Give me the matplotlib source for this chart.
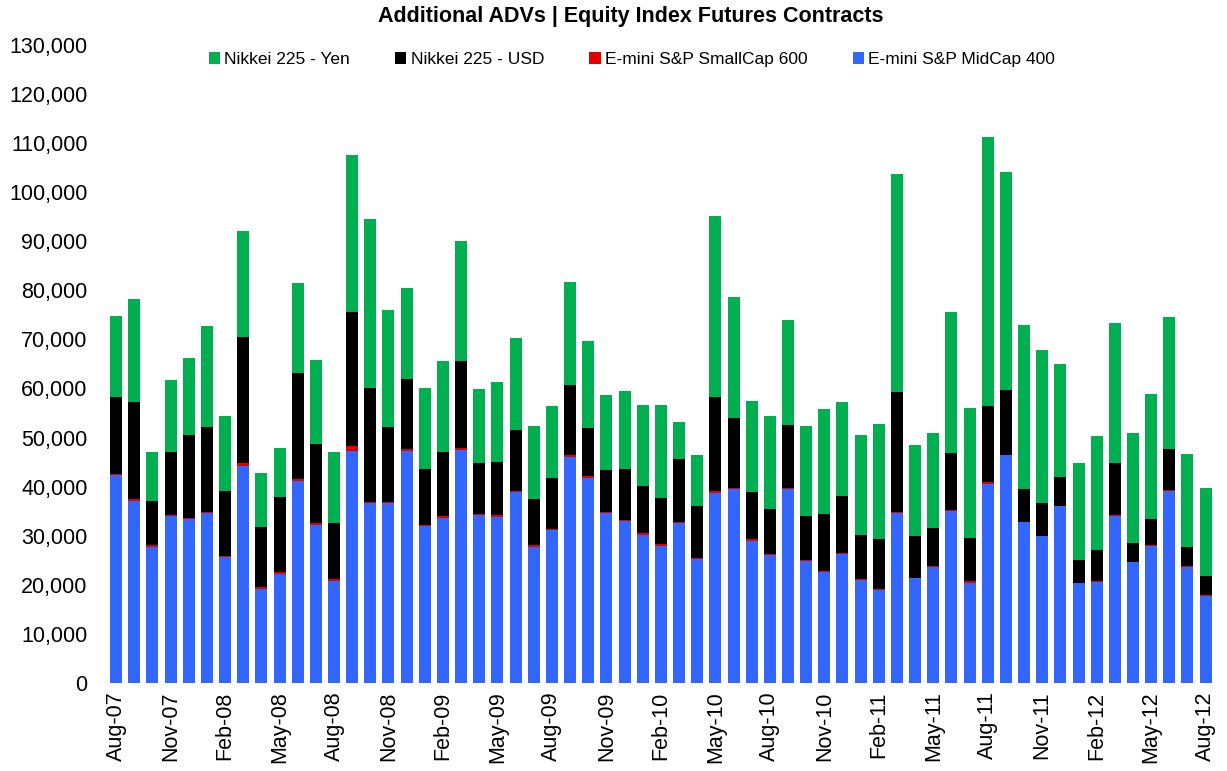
import numpy as np
import matplotlib
matplotlib.use('Agg')
import matplotlib.pyplot as plt
from matplotlib.ticker import FuncFormatter

plt.rcParams['font.family'] = ['Liberation Sans', 'DejaVu Sans']

# monthly, Aug-07 .. Aug-12
months = ['Aug-07', 'Sep-07', 'Oct-07', 'Nov-07', 'Dec-07',
          'Jan-08', 'Feb-08', 'Mar-08', 'Apr-08', 'May-08', 'Jun-08', 'Jul-08', 'Aug-08', 'Sep-08', 'Oct-08', 'Nov-08', 'Dec-08',
          'Jan-09', 'Feb-09', 'Mar-09', 'Apr-09', 'May-09', 'Jun-09', 'Jul-09', 'Aug-09', 'Sep-09', 'Oct-09', 'Nov-09', 'Dec-09',
          'Jan-10', 'Feb-10', 'Mar-10', 'Apr-10', 'May-10', 'Jun-10', 'Jul-10', 'Aug-10', 'Sep-10', 'Oct-10', 'Nov-10', 'Dec-10',
          'Jan-11', 'Feb-11', 'Mar-11', 'Apr-11', 'May-11', 'Jun-11', 'Jul-11', 'Aug-11', 'Sep-11', 'Oct-11', 'Nov-11', 'Dec-11',
          'Jan-12', 'Feb-12', 'Mar-12', 'Apr-12', 'May-12', 'Jun-12', 'Jul-12', 'Aug-12']

midcap400 = [42400, 37150, 27790, 34000, 33500, 34740, 25740, 44240, 19160, 22230, 41100, 32180, 20840, 47320, 36710, 36710,
             47320, 31960, 33640, 47530, 34150, 33790, 38900, 27640, 31080, 46070, 41830, 34660, 33050, 30200, 27940, 32620,
             25230, 38760, 39490, 29030, 26110, 39490, 24860, 22670, 26330, 20990, 19010, 34740, 21350, 23650, 35000, 20460,
             40610, 46400, 32720, 29860, 36030, 20380, 20610, 34070, 24590, 27980, 39180, 23690, 17750]

smallcap600 = [200, 300, 400, 150, 150, 200, 200, 500, 400, 300, 500, 400, 400, 1000, 200, 200,
               300, 200, 300, 300, 300, 400, 300, 400, 300, 300, 300, 150, 150, 400, 300, 150,
               150, 400, 300, 400, 150, 300, 150, 150, 150, 150, 150, 150, 150, 150, 150, 400,
               300, 100, 100, 100, 100, 100, 100, 100, 100, 100, 100, 100, 100]

nikkei_usd = [15760, 19810, 8960, 12950, 16880, 17270, 13180, 25760, 12320, 15280, 21510, 16050, 11450, 27150, 23280, 15230,
              14390, 11500, 13160, 17690, 10450, 10930, 12360, 9400, 10300, 14400, 9790, 8560, 10460, 9480, 9500, 12790,
              10670, 19200, 14180, 9550, 9210, 12790, 8920, 11550, 11690, 8990, 10090, 24490, 8480, 7790, 11650, 8700,
              15420, 13220, 6670, 6670, 5840, 4560, 6370, 10660, 3810, 5240, 8330, 3890, 3960]

nikkei_yen = [16450, 20990, 9950, 14700, 15580, 20410, 15290, 21640, 10970, 10160, 18280, 17190, 14410, 32030, 34220, 23840,
              18510, 16530, 18420, 24430, 14920, 16160, 18720, 14990, 14780, 20920, 17770, 15350, 15870, 16600, 18940, 7530,
              10460, 36860, 24570, 18500, 18940, 21350, 18500, 21500, 19090, 20330, 23480, 44390, 18510, 19410, 28800, 26470,
              54830, 44370, 33390, 31130, 23010, 19710, 23310, 28570, 22420, 25490, 26850, 19030, 17830]


def main():
	x = np.arange(len(months))
	fig = plt.figure(figsize=(12.27, 7.71), dpi=100)
	ax = fig.add_axes([0.085, 0.114, 0.905, 0.828])

	w = 0.66
	b1 = np.array(midcap400)
	b2 = b1 + np.array(smallcap600)
	b3 = b2 + np.array(nikkei_usd)
	h_mid = ax.bar(x, midcap400, w, color='#3366FF', label='E-mini S&P MidCap 400')
	h_small = ax.bar(x, smallcap600, w, bottom=b1, color='#E00000', label='E-mini S&P SmallCap 600')
	h_usd = ax.bar(x, nikkei_usd, w, bottom=b2, color='#000000', label='Nikkei 225 - USD')
	h_yen = ax.bar(x, nikkei_yen, w, bottom=b3, color='#00B050', label='Nikkei 225 - Yen')

	ax.set_xlim(-0.65, 60.5)
	ax.set_ylim(0, 130000)
	ax.set_yticks(np.arange(0, 130001, 10000))
	ax.yaxis.set_major_formatter(FuncFormatter(lambda v, p: '{:,.0f}'.format(v)))
	ax.set_xticks(x[::3])
	ax.set_xticklabels(months[::3], rotation=90, fontsize=15.5)
	ax.tick_params(axis='y', labelsize=15.5, length=0, pad=12)
	ax.tick_params(axis='x', length=0, pad=6)
	for s in ax.spines.values():
		s.set_visible(False)

	fig.text(0.514, 0.979, 'Additional ADVs | Equity Index Futures Contracts',
	         ha='center', va='center', fontsize=15.5, fontweight='bold')
	fig.legend([h_yen, h_usd, h_small, h_mid],
	           ['Nikkei 225 - Yen', 'Nikkei 225 - USD', 'E-mini S&P SmallCap 600', 'E-mini S&P MidCap 400'],
	           loc='center', bbox_to_anchor=(0.515, 0.923), ncol=4, frameon=False, fontsize=12.5,
	           handlelength=0.65, handleheight=0.65, handletextpad=0.25, columnspacing=2.6)

	plt.savefig('out.png', dpi=100)

if __name__ == '__main__':
	main()
